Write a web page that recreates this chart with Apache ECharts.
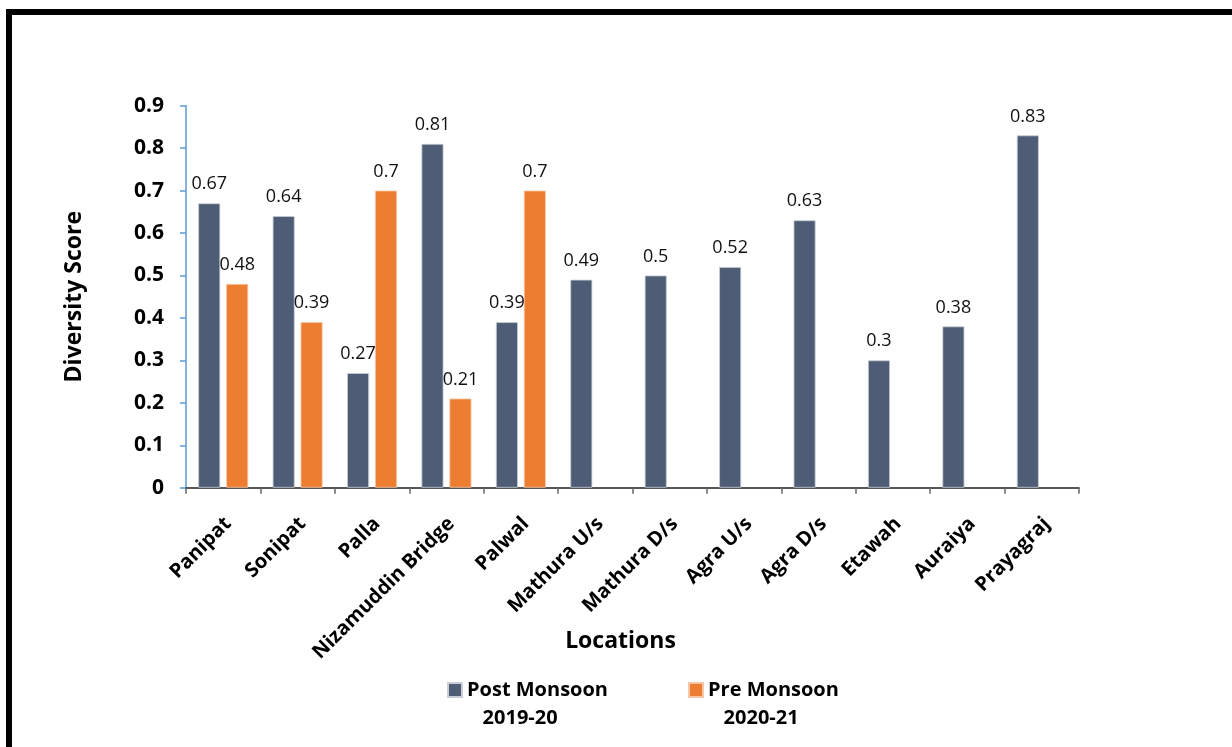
<!DOCTYPE html>
<html>
<head>
<meta charset="utf-8">
<title>Diversity Score</title>
<script src="https://cdn.jsdelivr.net/npm/echarts@6/dist/echarts.min.js"></script>
<style>
	html, body { margin: 0; padding: 0; background: #fff; }
	#chart { width: 1232px; height: 747px; }
</style>
</head>
<body>
<div id="chart"></div>
<script>
// 数据
var locations = ['Panipat', 'Sonipat', 'Palla', 'Nizamuddin Bridge', 'Palwal', 'Mathura U/s', 'Mathura D/s', 'Agra U/s', 'Agra D/s', 'Etawah', 'Auraiya', 'Prayagraj'];
var postMonsoon = [0.67, 0.64, 0.27, 0.81, 0.39, 0.49, 0.5, 0.52, 0.63, 0.3, 0.38, 0.83];
var preMonsoon = [0.48, 0.39, 0.7, 0.21, 0.7, null, null, null, null, null, null, null];
var seriesNames = ['Post Monsoon\n   2019-20', 'Pre Monsoon\n   2020-21'];
var yTicks = [0, 0.1, 0.2, 0.3, 0.4, 0.5, 0.6, 0.7, 0.8, 0.9];

var FONT = 'Open Sans';

function valueLabel(p) {
	if (p.value == null) return '';
	return String(Math.round(p.value * 100) / 100);
}

var chart = echarts.init(document.getElementById('chart'));
var option = {
	backgroundColor: '#fff',
	textStyle: { fontFamily: FONT },
	// 外框
	graphic: [{
		type: 'rect',
		shape: { x: 9, y: 12, width: 1400, height: 1000 },
		style: { fill: 'none', stroke: '#000', lineWidth: 6 },
		silent: true
	}],
	grid: { left: 186, right: 153, top: 105.7, bottom: 259.3, containLabel: false },
	legend: {
		data: seriesNames,
		left: 442,
		top: 643,
		itemWidth: 14,
		itemHeight: 14,
		itemGap: 80,
		icon: 'rect',
		// 空行让图标对齐第一行文字
		formatter: function(name) {
			return ' \n' + name;
		},
		textStyle: {
			fontFamily: FONT, fontSize: 20, fontWeight: 'bold', color: '#000',
			lineHeight: 28
		}
	},
	xAxis: {
		type: 'category',
		data: locations,
		name: 'Locations',
		nameLocation: 'middle',
		nameGap: 142,
		nameMoveOverlap: false,
		nameTextStyle: { fontFamily: FONT, fontSize: 23, fontWeight: 'bold', color: '#000', padding: [0, 24, 0, 0] },
		axisLine: { lineStyle: { color: '#222', width: 1.5 } },
		axisTick: { show: true, length: 6, lineStyle: { color: '#666', width: 1.5 } },
		axisLabel: {
			rotate: 45, margin: 28, interval: 0, verticalAlign: 'top', lineHeight: 14,
			fontFamily: FONT, fontSize: 20, fontWeight: 'bold', color: '#000'
		},
		splitLine: { show: false }
	},
	yAxis: {
		type: 'value',
		min: yTicks[0],
		max: yTicks[yTicks.length - 1],
		interval: 0.1,
		name: 'Diversity Score',
		nameLocation: 'middle',
		nameGap: 100,
		nameTextStyle: { fontFamily: FONT, fontSize: 23, fontWeight: 'bold', color: '#000' },
		axisLine: { show: true, lineStyle: { color: '#5B9BD5', width: 1.5 } },
		axisTick: { show: true, length: 6, lineStyle: { color: '#5B9BD5', width: 1.5 } },
		axisLabel: { margin: 22, fontFamily: FONT, fontSize: 21, fontWeight: 'bold', color: '#000' },
		splitLine: { show: false }
	},
	series: [{
		name: seriesNames[0],
		type: 'bar',
		data: postMonsoon,
		barWidth: 22,
		barGap: '27%',
		itemStyle: { color: '#4E5D75', borderColor: '#C9CED6', borderWidth: 0.8 },
		label: { show: true, position: 'top', distance: 10, formatter: valueLabel, fontFamily: FONT, fontSize: 18, color: '#111' }
	}, {
		name: seriesNames[1],
		type: 'bar',
		data: preMonsoon,
		barWidth: 22,
		barGap: '27%',
		itemStyle: { color: '#ED7D31', borderColor: '#F6C7A6', borderWidth: 0.8 },
		label: { show: true, position: 'top', distance: 10, formatter: valueLabel, fontFamily: FONT, fontSize: 18, color: '#111' }
	}]
};
chart.setOption(option);
</script>
</body>
</html>
